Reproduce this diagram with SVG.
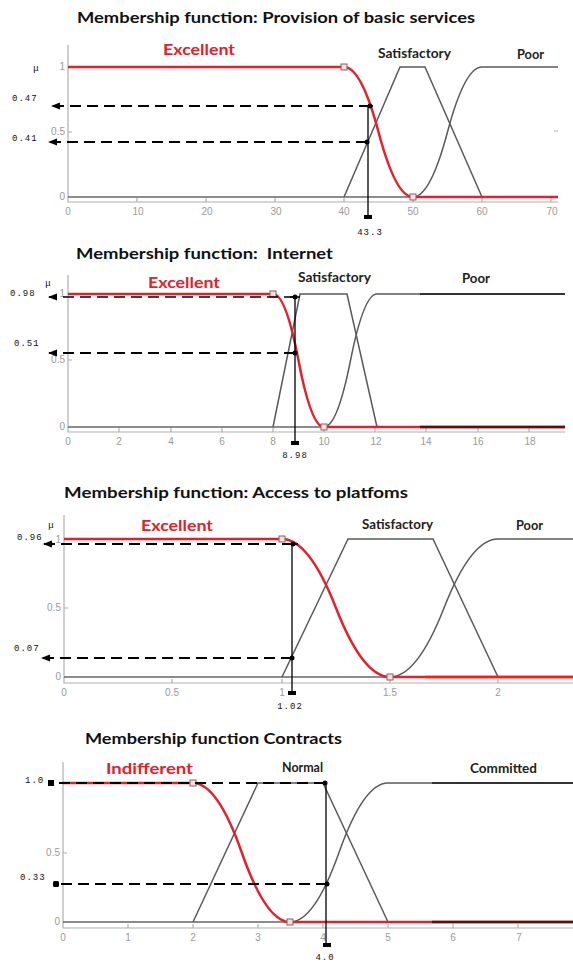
<svg xmlns="http://www.w3.org/2000/svg" width="573" height="965" viewBox="0 0 573 965">
<style>
.title{font-family:Lato,"Liberation Sans",sans-serif;font-weight:bold;font-size:16px;fill:#111}
.red-lbl{font-family:Lato,"Liberation Sans",sans-serif;font-weight:bold;font-size:16px;fill:#e3202b}
.lbl{font-family:Lato,"Liberation Sans",sans-serif;font-weight:bold;font-size:13px;fill:#222}
.tick{font-family:"Liberation Sans",sans-serif;font-size:10px;fill:#9a9a9a}
.val{font-family:"Liberation Mono",monospace;font-size:9px;fill:#111;letter-spacing:1px}
.mu{font-family:"Liberation Serif",serif;font-size:11px;fill:#222}
.axis{stroke:#b0b0b0;stroke-width:1.2;fill:none}
.base{stroke:#666;stroke-width:1.5;fill:none}
.mf{stroke:#5a5a5a;stroke-width:1.5;fill:none}
.ex{stroke:#e3202b;stroke-width:2.5;fill:none}
.dash{stroke:#000;stroke-width:2.2;stroke-dasharray:11 6;fill:none}
.dash-thin{stroke:#000;stroke-width:1.5;stroke-dasharray:11 6;fill:none}
.vert{stroke:#000;stroke-width:1.3;fill:none}
.sq{stroke:#8a6060;stroke-width:1;fill:#f4dede}
.dot{fill:#000}
</style>
<defs>
<marker id="arrL" markerWidth="10" markerHeight="8" refX="8" refY="4" orient="auto" markerUnits="userSpaceOnUse">
<path d="M9,4 L0,0.5 L0,7.5 Z" fill="#000"/>
</marker>
</defs>

<!-- Panel 1 -->
<g id="panel1">
<text class="title" x="77" y="23" textLength="398" lengthAdjust="spacingAndGlyphs">Membership function: Provision of basic services</text>
<text class="red-lbl" x="163" y="55" textLength="72" lengthAdjust="spacingAndGlyphs">Excellent</text>
<text class="lbl" x="378" y="58" textLength="73" lengthAdjust="spacingAndGlyphs">Satisfactory</text>
<text class="lbl" x="517" y="59" textLength="27" lengthAdjust="spacingAndGlyphs">Poor</text>
<path class="axis" d="M68,45 V202 H558 M68,202 v-4 M137,202 v-4 M206,202 v-4 M275,202 v-4 M344,202 v-4 M413,202 v-4 M482,202 v-4 M551,202 v-4 M68,132 h4 M558,131 h-4"/>
<g class="tick" text-anchor="middle">
<text x="68" y="215">0</text><text x="138" y="215">10</text><text x="207" y="215">20</text><text x="276" y="215">30</text><text x="344" y="215">40</text><text x="413" y="215">50</text><text x="482" y="215">60</text><text x="552" y="215">70</text>
</g>
<g class="tick" text-anchor="end">
<text x="65" y="70">1</text><text x="65" y="135">0.5</text><text x="65" y="200">0</text>
</g>
<text class="mu" x="33" y="71">μ</text>
<path class="base" d="M68,197 H558"/>
<path class="mf" d="M344,197 L400,67 H425 L482,197"/>
<path class="mf" d="M413,197 Q430.25,197 447.5,132 T482,67 H558"/>
<path class="ex" d="M68,67 H344 Q361.25,67 378.5,132 T413,197 H558"/>
<rect class="sq" x="341" y="64" width="6" height="6"/>
<rect class="sq" x="410" y="194" width="6" height="6"/>
<path class="dash" d="M370,106 H52" marker-end="url(#arrL)"/>
<path class="dash" d="M367,142 H49" marker-end="url(#arrL)"/>
<path class="vert" d="M368,106 V217 M363,106 H373"/>
<circle class="dot" cx="370" cy="106" r="2.5"/>
<circle class="dot" cx="367" cy="142" r="2.5"/>
<rect class="dot" x="364" y="215" width="8" height="4"/>
<text class="val" x="12" y="101">0.47</text>
<text class="val" x="12" y="141">0.41</text>
<text class="val" x="370" y="235" text-anchor="middle">43.3</text>
</g>

<!-- Panel 2 -->
<g id="panel2">
<text class="title" x="76" y="259" textLength="257" lengthAdjust="spacingAndGlyphs" xml:space="preserve">Membership function:  Internet</text>
<text class="red-lbl" x="148" y="288" textLength="72" lengthAdjust="spacingAndGlyphs">Excellent</text>
<text class="lbl" x="298" y="282" textLength="73" lengthAdjust="spacingAndGlyphs">Satisfactory</text>
<text class="lbl" x="462" y="283" textLength="28" lengthAdjust="spacingAndGlyphs">Poor</text>
<path class="axis" d="M68,275 V432 H565 M68,432 v-4 M119,432 v-4 M171,432 v-4 M222,432 v-4 M273,432 v-4 M324,432 v-4 M375,432 v-4 M426,432 v-4 M478,432 v-4 M529,432 v-4 M68,360 h4"/>
<g class="tick" text-anchor="middle">
<text x="68" y="445">0</text><text x="119" y="445">2</text><text x="171" y="445">4</text><text x="222" y="445">6</text><text x="273" y="445">8</text><text x="324" y="445">10</text><text x="376" y="445">12</text><text x="426" y="445">14</text><text x="478" y="445">16</text><text x="530" y="445">18</text>
</g>
<g class="tick" text-anchor="end">
<text x="65" y="297">1</text><text x="65" y="363">0.5</text><text x="65" y="430">0</text>
</g>
<text class="mu" x="45" y="286">μ</text>
<path class="base" d="M68,427 H565"/>
<path class="mf" d="M273,427 L300,294 H347 L377,427"/>
<path class="mf" d="M324,427 Q337.25,427 350.5,360.5 T377,294 H565"/>
<path d="M420,294 H565" stroke="#333" stroke-width="2" fill="none"/>
<path class="ex" d="M68,294 H273 Q285.75,294 298.5,360.5 T324,427 H565"/>
<path d="M420,427 H565" stroke="#5a1010" stroke-width="2.5" fill="none"/>
<rect class="sq" x="270" y="291" width="6" height="6"/>
<rect class="sq" x="321" y="424" width="6" height="6"/>
<path class="dash-thin" d="M295,297 H49" marker-end="url(#arrL)"/>
<path class="dash" d="M295,353 H49" marker-end="url(#arrL)"/>
<path class="vert" d="M295,297 V443 M290,297 H300"/>
<circle class="dot" cx="295" cy="297" r="2.5"/>
<circle class="dot" cx="295" cy="353" r="2.5"/>
<rect class="dot" x="291" y="441" width="8" height="4"/>
<text class="val" x="10" y="296">0.98</text>
<text class="val" x="14" y="346">0.51</text>
<text class="val" x="295" y="458" text-anchor="middle">8.98</text>
</g>

<!-- Panel 3 -->
<g id="panel3">
<text class="title" x="64" y="498" textLength="344" lengthAdjust="spacingAndGlyphs">Membership function: Access to platfoms</text>
<text class="red-lbl" x="141" y="531" textLength="72" lengthAdjust="spacingAndGlyphs">Excellent</text>
<text class="lbl" x="362" y="529" textLength="71" lengthAdjust="spacingAndGlyphs">Satisfactory</text>
<text class="lbl" x="516" y="530" textLength="27" lengthAdjust="spacingAndGlyphs">Poor</text>
<path class="axis" d="M64,515 V683 H573 M64,683 v-4 M172,683 v-4 M282,683 v-4 M390,683 v-4 M498,683 v-4 M64,608 h4"/>
<g class="tick" text-anchor="middle">
<text x="64" y="696">0</text><text x="172" y="696">0.5</text><text x="282" y="696">1</text><text x="390" y="696">1.5</text><text x="498" y="696">2</text>
</g>
<g class="tick" text-anchor="end">
<text x="61" y="543">1</text><text x="61" y="611">0.5</text><text x="61" y="680">0</text>
</g>
<text class="mu" x="48" y="528">μ</text>
<path class="base" d="M64,677 H573"/>
<path class="mf" d="M282,677 L348,539 H433 L498,677"/>
<path class="mf" d="M390,677 Q417,677 444,608 T498,539 H573"/>
<path class="ex" d="M64,539 H282 Q309,539 336,608 T390,677 H573"/>
<path d="M425,677 H573" stroke="#ff1a1a" stroke-width="2.5" fill="none"/>
<rect class="sq" x="279" y="536" width="6" height="6"/>
<rect class="sq" x="387" y="674" width="6" height="6"/>
<path class="dash" d="M293,544 H44" marker-end="url(#arrL)"/>
<path class="dash" d="M292,658 H42" marker-end="url(#arrL)"/>
<path class="vert" d="M292,544 V693 M287,544 H298"/>
<circle class="dot" cx="293" cy="544" r="2.5"/>
<circle class="dot" cx="292" cy="658" r="2.5"/>
<rect class="dot" x="288" y="691" width="8" height="4"/>
<text class="val" x="17" y="540">0.96</text>
<text class="val" x="14" y="651">0.07</text>
<text class="val" x="290" y="709" text-anchor="middle">1.02</text>
</g>

<!-- Panel 4 -->
<g id="panel4">
<text class="title" x="85" y="744" textLength="257" lengthAdjust="spacingAndGlyphs">Membership function Contracts</text>
<text class="red-lbl" x="106" y="774" textLength="87" lengthAdjust="spacingAndGlyphs">Indifferent</text>
<text class="lbl" x="282" y="772" textLength="41" lengthAdjust="spacingAndGlyphs">Normal</text>
<text class="lbl" x="470" y="773" textLength="67" lengthAdjust="spacingAndGlyphs">Committed</text>
<path class="axis" d="M63,762 V928 H573 M63,928 v-4 M128,928 v-4 M193,928 v-4 M258,928 v-4 M323,928 v-4 M388,928 v-4 M453,928 v-4 M518,928 v-4 M63,853 h4"/>
<g class="tick" text-anchor="middle">
<text x="63" y="941">0</text><text x="128" y="941">1</text><text x="193" y="941">2</text><text x="258" y="941">3</text><text x="323" y="941">4</text><text x="388" y="941">5</text><text x="453" y="941">6</text><text x="519" y="941">7</text>
</g>
<g class="tick" text-anchor="end">
<text x="60" y="856">0.5</text><text x="60" y="925">0</text>
</g>
<path class="base" d="M63,922 H573"/>
<path class="mf" d="M193,922 L258,783 H323 L388,922"/>
<path class="mf" d="M290,922 Q314.4,922 339,852.5 T388,783 H573"/>
<path d="M432,783 H573" stroke="#333" stroke-width="2" fill="none"/>
<path class="ex" d="M63,783 H193 Q217.4,783 241.75,852.5 T290,922 H573"/>
<path d="M432,922 H573" stroke="#5a1010" stroke-width="2.5" fill="none"/>
<rect class="sq" x="190" y="780" width="6" height="6"/>
<rect class="sq" x="287" y="919" width="6" height="6"/>
<path class="dash" d="M325,783 H50"/>
<path class="dash" d="M327,884 H55"/>
<rect class="dot" x="48" y="780" width="6" height="6"/>
<rect class="dot" x="53" y="881" width="6" height="6" rx="1.5"/>
<path class="vert" d="M326,783 V945"/>
<circle class="dot" cx="325" cy="783" r="2.5"/>
<circle class="dot" cx="327" cy="884" r="2.5"/>
<rect class="dot" x="323" y="943" width="8" height="4"/>
<text class="val" x="25" y="783">1.0</text>
<text class="val" x="20" y="880">0.33</text>
<text class="val" x="325" y="960" text-anchor="middle">4.0</text>
</g>
</svg>
